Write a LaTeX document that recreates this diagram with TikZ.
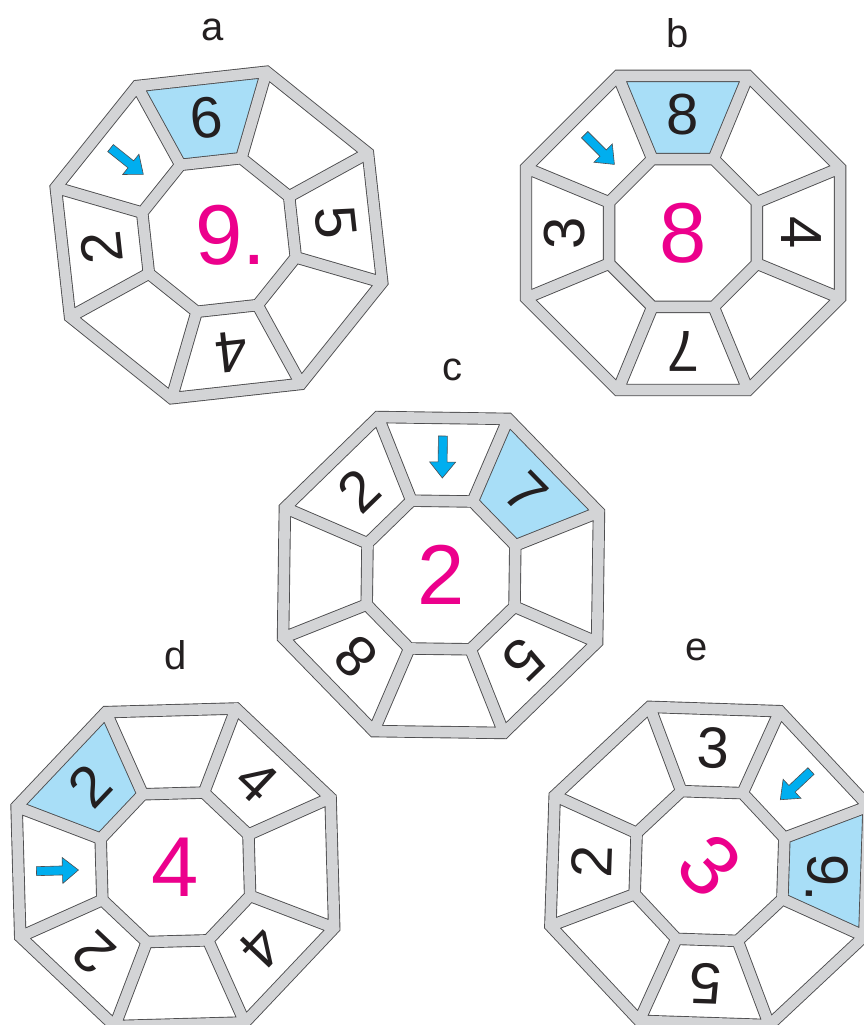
\documentclass[tikz,border=0pt]{standalone}
\usepackage{fontspec}
\setmainfont{Liberation Sans}
\definecolor{band}{HTML}{D3D4D6}
\definecolor{edge}{HTML}{4D4D4F}
\definecolor{cellblue}{HTML}{A8DEF7}
\definecolor{arrowcyan}{HTML}{00AEEF}
\definecolor{magentanum}{HTML}{EC008C}
\definecolor{ink}{HTML}{231F20}
\tikzset{
  darkline/.style={draw=edge, line width=12.4pt, line join=miter},
  grayline/.style={draw=band, line width=10.6pt, line join=miter},
  digit/.style={text=ink, font=\fontsize{58}{60}\selectfont, inner sep=0pt},
  bignum/.style={text=magentanum, font=\fontsize{85}{88}\selectfont, inner sep=0pt},
  lab/.style={text=ink, font=\fontsize{40}{44}\selectfont, inner sep=0pt},
  cellfill/.style={fill=cellblue},
  arrowshape/.style={fill=arrowcyan, draw=edge, line width=0.6pt, line join=miter},
}
% octagon frame: outer and inner octagon plus spokes
\newcommand\octpath[1]{%
  \path[#1] (22.5:170) -- (67.5:170) -- (112.5:170) -- (157.5:170) -- (202.5:170) -- (247.5:170) -- (292.5:170) -- (337.5:170) -- cycle
    (22.5:80) -- (67.5:80) -- (112.5:80) -- (157.5:80) -- (202.5:80) -- (247.5:80) -- (292.5:80) -- (337.5:80) -- cycle
    (22.5:80) -- (22.5:170) (67.5:80) -- (67.5:170) (112.5:80) -- (112.5:170) (157.5:80) -- (157.5:170)
    (202.5:80) -- (202.5:170) (247.5:80) -- (247.5:170) (292.5:80) -- (292.5:170) (337.5:80) -- (337.5:170);}
\newcommand\octframe{\octpath{darkline}\octpath{grayline}}
% blue cell centred at angle #1
\newcommand\bluecell[1]{\fill[cellfill] ({#1-22.5}:80) -- ({#1-22.5}:170) -- ({#1+22.5}:170) -- ({#1+22.5}:80) -- cycle;}
% arrow in cell at angle #1, pointing to the centre
\newcommand\cellarrow[1]{%
  \begin{scope}[shift={(#1:118)}, rotate=#1+180]
    \path[arrowshape] (-21,-4.5) -- (5,-4.5) -- (5,-13) -- (21,0) -- (5,13) -- (5,4.5) -- (-21,4.5) -- cycle;
  \end{scope}}
\begin{document}
\begin{tikzpicture}[x=1pt, y=1pt]
\path[use as bounding box] (0,0) rectangle (864,1025);
\clip (0,0) rectangle (864,1025);
\fill[white] (0,0) rectangle (864,1025);

% labels
\node[lab] (la) at (213,995) {a};
\node[lab] (lb) at (678,992) {b};
\node[lab] (lc) at (452,655) {c};
\node[lab] (ld) at (176,370) {d};
\node[lab] (le) at (697,375) {e};

% ---------- a ----------
\begin{scope}[shift={(219,790)}, rotate=6.3]
  \bluecell{90}
  \octframe
  \cellarrow{135}
  \node[digit, rotate=6.3] (a6) at (90:118) {6};
  \node[digit, rotate=96.3] (a2) at (180:118) {2};
  \node[digit, rotate=-83.7] (a5) at (0:118) {5};
  \node[digit, rotate=186.3] (a4) at (270:118) {4};
\end{scope}
\node[bignum] (a9) at (230.8,790) {9.};

% ---------- b ----------
\begin{scope}[shift={(683,792)}]
  \bluecell{90}
  \octframe
  \cellarrow{135}
  \node[digit] (b8) at (90:118) {8};
  \node[digit, rotate=90] (b3) at (180:118) {3};
  \node[digit, rotate=-90] (b4) at (0:118) {4};
  \node[digit, rotate=180] (b7) at (270:118) {7};
\end{scope}
\node[bignum] (bc) at (683,792) {8};

% ---------- c ----------
\begin{scope}[shift={(441,450)}, rotate=-0.8]
  \bluecell{45}
  \octframe
  \cellarrow{90}
  \node[digit, rotate=-45.8] (c7) at (45:118) {7};
  \node[digit, rotate=44.2] (c2) at (135:118) {2};
  \node[digit, rotate=134.2] (c8) at (225:118) {8};
  \node[digit, rotate=224.2] (c5) at (315:118) {5};
\end{scope}
\node[bignum] (cc) at (441,450) {2};

% ---------- d ----------
\begin{scope}[shift={(175.4,157.7)}, rotate=1.6]
  \bluecell{135}
  \octframe
  \cellarrow{180}
  \node[digit, rotate=46.6] (d2a) at (135:118) {2};
  \node[digit, rotate=-43.4] (d4a) at (45:118) {4};
  \node[digit, rotate=136.6] (d2b) at (225:118) {2};
  \node[digit, rotate=226.6] (d4b) at (315:118) {4};
\end{scope}
\node[bignum] (dc) at (175.4,157.7) {4};

% ---------- e ----------
\begin{scope}[shift={(709.5,159)}, rotate=-1.9]
  \bluecell{0}
  \octframe
  \cellarrow{45}
  \node[digit, rotate=-1.9] (e3) at (90:118) {3};
  \node[digit, rotate=-91.9] (e9) at (118,-8.06) {9.};
  \node[digit, rotate=88.1] (e2) at (180:118) {2};
  \node[digit, rotate=178.1] (e5) at (270:118) {5};
\end{scope}
\node[bignum, rotate=-45] (ec) at (709.5,159) {3};
\end{tikzpicture}
\end{document}
